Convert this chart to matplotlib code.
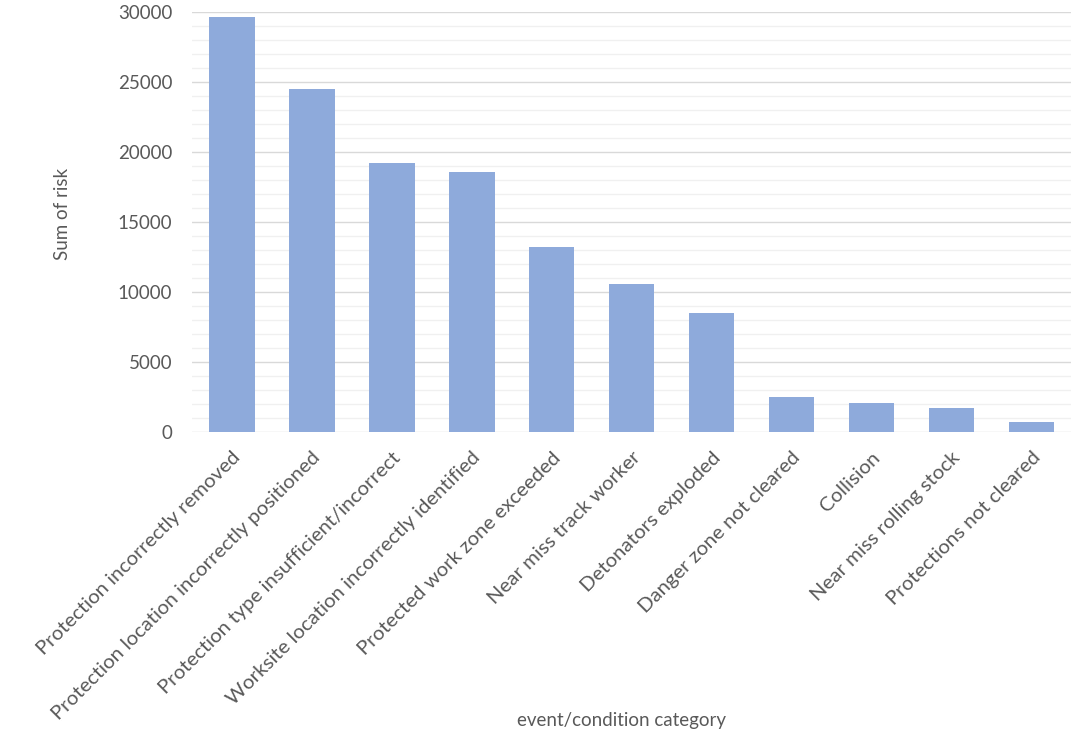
import matplotlib.pyplot as plt
import numpy as np
from matplotlib.ticker import MultipleLocator

categories = [
    "Protection incorrectly removed",
    "Protection location incorrectly positioned",
    "Protection type insufficient/incorrect",
    "Worksite location incorrectly identified",
    "Protected work zone exceeded",
    "Near miss track worker",
    "Detonators exploded",
    "Danger zone not cleared",
    "Collision",
    "Near miss rolling stock",
    "Protections not cleared",
]
risk = [29600, 24500, 19200, 18600, 13200, 10600, 8500, 2500, 2100, 1720, 720]

plt.rcParams['font.family'] = ['Lato', 'DejaVu Sans']
text_color = "#595959"

fig = plt.figure(figsize=(10.9, 7.35), dpi=100)
ax = fig.add_axes([0.176, 0.412, 0.807, 0.572])

x = np.arange(len(categories))
ax.bar(x, risk, width=0.57, color="#8eaadb", zorder=3)

ax.set_xlim(-0.5, len(categories) - 0.5)
ax.set_ylim(0, 30000)
ax.yaxis.set_major_locator(MultipleLocator(5000))
ax.yaxis.set_minor_locator(MultipleLocator(1000))
ax.grid(axis='y', which='major', color="#d9d9d9", linewidth=1.0, zorder=0)
ax.grid(axis='y', which='minor', color="#f0f0f0", linewidth=1.0, zorder=0)

for s in ax.spines.values():
    s.set_visible(False)
ax.tick_params(axis='both', which='both', length=0)
ax.tick_params(axis='y', labelsize=13.5, labelcolor=text_color, pad=14)

ax.set_xticks(x)
ax.set_xticklabels(categories, rotation=45, ha='right', rotation_mode='anchor',
                   fontsize=14.7, color=text_color)
ax.tick_params(axis='x', pad=12)

ax.set_ylabel("Sum of risk", fontsize=13.5, color=text_color)
ax.yaxis.set_label_coords(-0.137, 0.52)
ax.set_xlabel("event/condition category", fontsize=13.5, color=text_color,
              va='center')
ax.xaxis.set_label_coords(0.489, -0.686)

fig.savefig("out.png", dpi=100, facecolor="white")
